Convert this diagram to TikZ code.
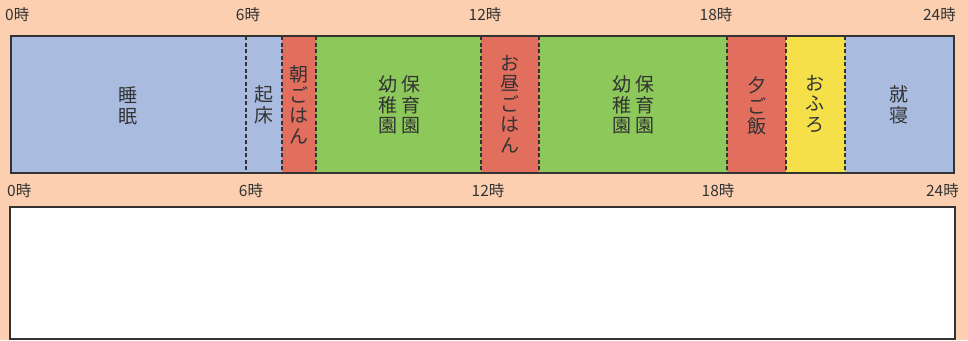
\documentclass[tikz,border=0pt]{standalone}
\usepackage{fontspec}
\setmainfont{Noto Sans CJK JP}
\definecolor{bg}{HTML}{FBCFB0}
\definecolor{sleep}{HTML}{A9BCE0}
\definecolor{meal}{HTML}{E26E5E}
\definecolor{school}{HTML}{8DC85A}
\definecolor{bath}{HTML}{F5E04A}
\definecolor{ink}{HTML}{333333}

\begin{document}
\begin{tikzpicture}[x = 1pt, y = -1pt,
    tate/.style = {align = center, inner sep = 0pt, text = ink,
      font = \fontsize{19}{20.5}\selectfont},
    hour/.style = {inner sep = 0pt, text = ink, font = \fontsize{15.5}{15.5}\selectfont}]
        \fill[bg] (0,0) rectangle (968,340);
        \useasboundingbox (0,0) rectangle (968,340);
        % top bar
        \fill[sleep] (11,36) rectangle (282,173);
        \fill[meal] (282,36) rectangle (316,173);
        \fill[school] (316,36) rectangle (481,173);
        \fill[meal] (481,36) rectangle (539,173);
        \fill[school] (539,36) rectangle (727,173);
        \fill[meal] (727,36) rectangle (786,173);
        \fill[bath] (786,36) rectangle (845,173);
        \fill[sleep] (845,36) rectangle (954,173);
        \foreach \x in {246, 282, 316, 481, 539, 727, 786, 845}
          \draw[ink, dash pattern = on 4pt off 2.5pt, line width = 1.3pt] (\x,36) -- (\x,173);
        \draw[ink, line width = 1.5pt] (11,36) rectangle (954,173);

        \node[tate] (suimin) at (128,106) {睡\\眠};
        \node[tate] (kisho) at (264,105) {起\\床};
        \node[tate] (asa) at (299,105) {朝\\ご\\は\\ん};
        \node[tate] (hoiku1) at (411,105) {保\\育\\園};
        \node[tate] (yochi1) at (388,105) {幼\\稚\\園};
        \node[tate] (hiru) at (510,104) {お\\昼\\ご\\は\\ん};
        \node[tate] (hoiku2) at (645,105) {保\\育\\園};
        \node[tate] (yochi2) at (622,105) {幼\\稚\\園};
        \node[tate] (yuu) at (757,106) {夕\\ご\\飯};
        \node[tate] (furo) at (815,104) {お\\ふ\\ろ};
        \node[tate] (shushin) at (899,105) {就\\寝};

        % hour labels
        \node[hour, anchor = west] (t0) at (5,15) {0時};
        \node[hour] (t6) at (248,15) {6時};
        \node[hour] (t12) at (485,15) {12時};
        \node[hour] (t18) at (716,15) {18時};
        \node[hour, anchor = east] (t24) at (956,15) {24時};

        \node[hour, anchor = west] (b0) at (7,191) {0時};
        \node[hour] (b6) at (251,191) {6時};
        \node[hour] (b12) at (488,191) {12時};
        \node[hour] (b18) at (718,191) {18時};
        \node[hour, anchor = east] (b24) at (959,191) {24時};

        % empty bar
        \draw[ink, fill = white, line width = 1.5pt] (10,207) rectangle (955,339);
\end{tikzpicture}
\end{document}
